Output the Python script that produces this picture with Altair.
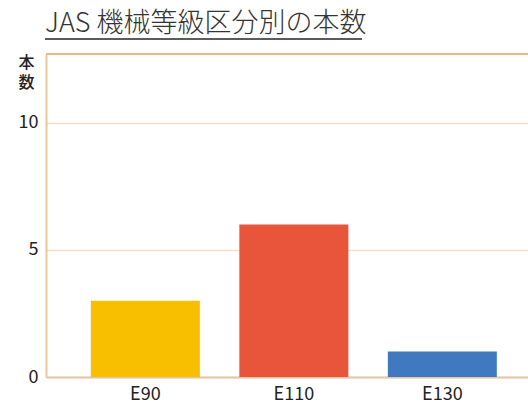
import altair as alt
import pandas as pd

categories = ["E90", "E110", "E130"]
counts = [3, 6, 1]
colors = ["#F8BE00", "#E8553A", "#4179C0"]
y_ticks = [0, 5, 10]
title_text = "JAS 機械等級区分別の本数"

df = pd.DataFrame({"grade": categories, "count": counts})

FONT = "Noto Sans CJK JP"

bars = alt.Chart(df).mark_bar().encode(
    x=alt.X(
        "grade:N",
        sort=categories,
        scale=alt.Scale(paddingInner=0.266, paddingOuter=0.256, align=0.59),
        axis=alt.Axis(
            title=None, labelAngle=0, labelFontSize=18, labelFont=FONT,
            labelColor="#222", ticks=False, labelPadding=8,
            domainColor="#E3C6A6", domainWidth=2,
        ),
    ),
    y=alt.Y(
        "count:Q",
        scale=alt.Scale(domain=[0, 12.7], nice=False),
        axis=alt.Axis(
            values=y_ticks, title=["本", "数"], titleAngle=0, titleX=-20, titleY=0,
            titleAlign="center", titleBaseline="top", titleFontSize=16,
            titleFont=FONT, titleFontWeight=500, titleColor="#222",
            titleLineHeight=20,
            labelFontSize=18, labelFont=FONT, labelColor="#222",
            ticks=False, labelPadding=8, grid=True, gridColor="#F2DEC6",
            gridWidth=1.5, domainColor="#E9C79C", domainWidth=2,
        ),
    ),
    color=alt.Color("grade:N", scale=alt.Scale(domain=categories, range=colors), legend=None),
)

top_border = alt.Chart(df).mark_rule(color="#E8B87E", strokeWidth=1.5).encode(
    x=alt.value(0), x2=alt.value(482), y=alt.value(0)
)

underline = alt.Chart(df).mark_rule(color="#444", strokeWidth=1.2).encode(
    x=alt.value(-1), x2=alt.value(316), y=alt.value(-15)
)

chart = alt.layer(bars, top_border, underline).properties(
    width=482,
    height=323,
    title=alt.TitleParams(
        title_text, anchor="start", fontSize=27, font=FONT, fontWeight=300,
        color="#333", offset=0, dx=27,
    ),
    autosize=alt.AutoSizeParams(type="none"),
    padding={"left": 46, "top": 54, "right": 0, "bottom": 26},
).configure_view(strokeWidth=0)

chart.save("out.html", embed_options={"renderer": "svg", "actions": False})
